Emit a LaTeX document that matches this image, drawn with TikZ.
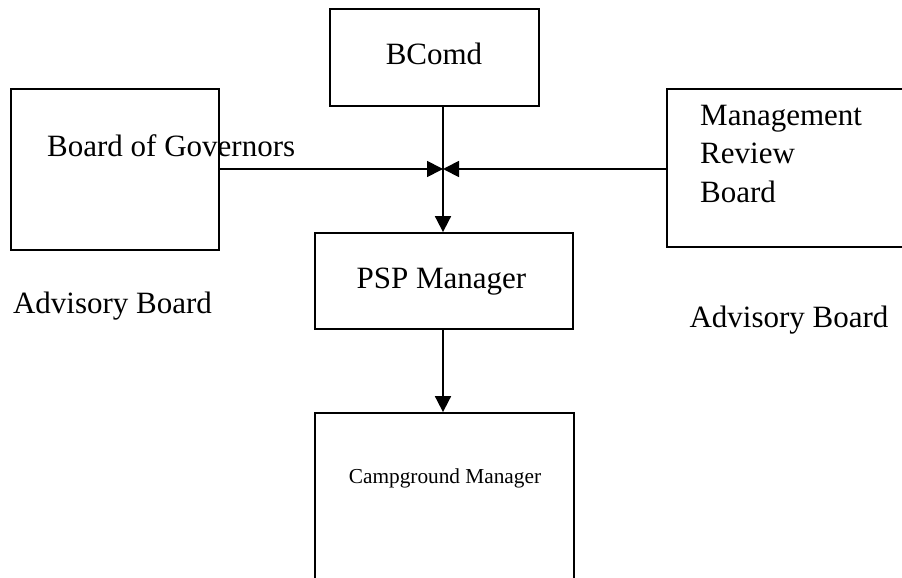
\documentclass[tikz,border=0pt]{standalone}
\usepackage{fontspec}
\setmainfont{Liberation Serif}
\usetikzlibrary{arrows.meta,calc}
\newcommand{\bigtxt}{\fontsize{31}{38.5}\selectfont}
\newcommand{\smalltxt}{\fontsize{21.3}{26}\selectfont}

\begin{document}
\begin{tikzpicture}[x=1pt,y=-1pt,>={Triangle[length=16pt,width=16pt]},
  box/.style={draw,line width=1.8pt,rectangle,inner sep=0pt},
  txt/.style={inner sep=0pt,font=\bigtxt},
  link/.style={line width=1.8pt,->}]
  \useasboundingbox (0,0) rectangle (902,578);
  \clip (0,0) rectangle (902,578);

  % boxes
  \node[box,minimum width=209pt,minimum height=97pt] (bcomd) at (434.5,57.5) {};
  \node[box,minimum width=208pt,minimum height=161pt] (gov) at (115,169.5) {};
  \node[box,minimum width=248pt,minimum height=158pt] (mrb) at (791,168) {};
  \node[box,minimum width=258pt,minimum height=96pt] (psp) at (444,281) {};
  \node[box,minimum width=259pt,minimum height=187pt] (camp) at (444.5,506.5) {};

  % texts
  \node[txt,anchor=base] (bcomdtxt) at (434,64) {BComd};
  \node[txt,anchor=base west] (govtxt) at (47,156) {Board of Governors};
  \node[txt,anchor=base west,align=left] (mrbtxt) at (700,202) {Management\\Review\\Board};
  \node[txt,anchor=base] (psptxt) at (441.5,288) {PSP Manager};
  \node[txt,anchor=base] (advl) at (112.5,313) {Advisory Board};
  \node[txt,anchor=base] (advr) at (789,327) {Advisory Board};
  \node[inner sep=0pt,font=\smalltxt,anchor=base] (camptxt) at (445,483) {Campground Manager};

  % links
  \coordinate (join) at (443,169);
  \draw[line width=1.8pt] (bcomd.south -| join) -- (join);
  \draw[link] (join) -- (psp.north -| join);
  \draw[link] (gov.east |- join) -- (join);
  \draw[link] (mrb.west |- join) -- (join);
  \draw[link] (psp.south -| join) -- (camp.north -| join);

  \iffalse
  \draw[help lines] (0,0) grid[step=50] (902,578);
  \fi
\end{tikzpicture}
\end{document}
